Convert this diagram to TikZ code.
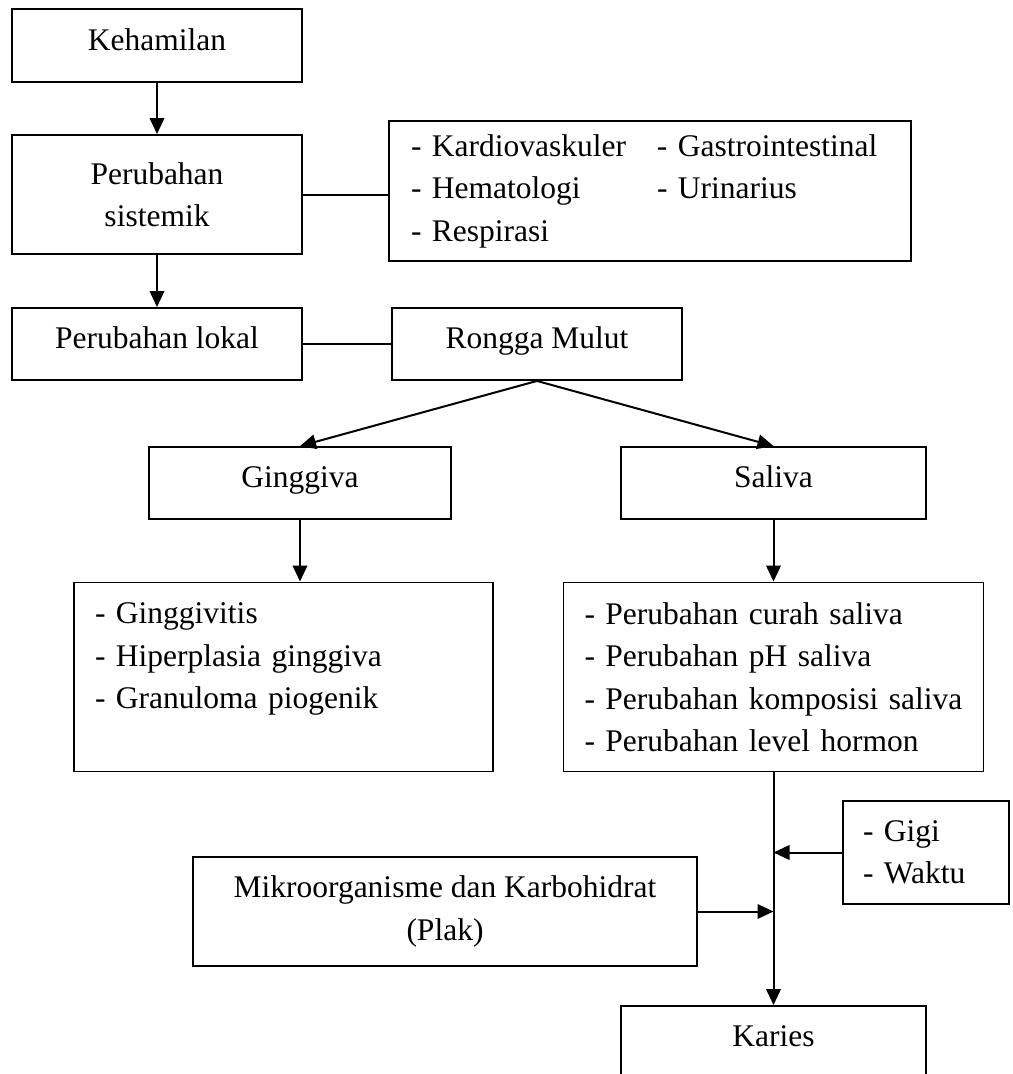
\documentclass[tikz,border=0pt]{standalone}
\usepackage{fontspec}
\setmainfont{Liberation Serif}
\usetikzlibrary{arrows.meta, positioning}
\tikzstyle{box} = [rectangle, draw, line width=0.75pt, inner xsep=8.4pt, inner ysep=0pt, text centered]
\tikzstyle{sbox} = [box, text height=6.6pt, text depth=3pt, minimum width=116pt, minimum height=28.8pt]
\tikzstyle{lbox} = [box, align=left, minimum height=75.6pt]
\tikzstyle{line} = [draw, line width=0.8pt, -{Triangle[length=6.4pt, width=5.8pt]}]
\tikzstyle{link} = [draw, line width=0.8pt]

\begin{document}
\begin{tikzpicture}[auto, font=\fontsize{12.6}{17}\selectfont]
    \useasboundingbox (0,0) rectangle (405.2pt,-429.6pt);
    % Place nodes
    \node [sbox, minimum height=29.2pt] (keham) at (62.8pt,-18.2pt) {Kehamilan};
    \node [box, align=center, minimum width=116pt, minimum height=47.6pt, below of=keham, node distance=59.6pt] (sistemik) {Perubahan\\sistemik};
    \node [box, align=left, inner xsep=8.8pt, text width=191.2pt, minimum height=56pt, right of=sistemik, node distance=197.2pt, yshift=1.4pt] (organs)
        {\makebox[98.4pt][l]{- Kardiovaskuler}- Gastrointestinal\\
         \makebox[98.4pt][l]{- Hematologi}- Urinarius\\
         - Respirasi};
    \node [sbox, below of=sistemik, node distance=59.8pt] (lokal) {Perubahan lokal};
    \node [sbox, right of=lokal, node distance=152pt] (rongga) {Rongga Mulut};
    \node [sbox, minimum width=120.8pt, below of=lokal, node distance=55.6pt, xshift=57.2pt] (ginggiva) {Ginggiva};
    \node [sbox, minimum width=122pt, right of=ginggiva, node distance=189.4pt] (saliva) {Saliva};
    \node [lbox, text width=150.8pt, below of=ginggiva, node distance=77.6pt, xshift=-6.6pt] (gingList)
        {- Ginggivitis\\- Hiperplasia ginggiva\\- Granuloma piogenik\\\mbox{}};
    \node [lbox, text width=151.2pt, below of=saliva, node distance=77.6pt] (salList)
        {- Perubahan curah saliva\\- Perubahan pH saliva\\- Perubahan komposisi saliva\\- Perubahan level hormon};
    \node [sbox, minimum width=122pt, below of=salList, node distance=146pt] (karies) {Karies};
    \node [box, align=left, inner xsep=8pt, text width=50.4pt, minimum height=41.2pt, below of=salList, node distance=70.2pt, xshift=61pt] (gigi) {- Gigi\\- Waktu};
    \node [box, align=center, minimum width=201.6pt, minimum height=43.6pt, left of=gigi, node distance=192.4pt, yshift=-23.6pt] (mikro) {Mikroorganisme dan Karbohidrat\\(Plak)};
    % Draw edges
    \path [line] (keham) -- (sistemik);
    \path [link] (sistemik.east) -- (sistemik.east -| organs.west);
    \path [line] (sistemik) -- (lokal);
    \path [link] (lokal) -- (rongga);
    \path [line] (rongga.south) -- (ginggiva.north);
    \path [line] (rongga.south) -- (saliva.north);
    \path [line] (ginggiva.south) -- (ginggiva.south |- gingList.north);
    \path [line] (saliva) -- (salList);
    \path [line] (salList) -- (karies);
    \path [line] (gigi.west) -- (gigi.west -| salList.south);
    \path [line] (mikro.east) -- (mikro.east -| salList.south);
\end{tikzpicture}
\end{document}
